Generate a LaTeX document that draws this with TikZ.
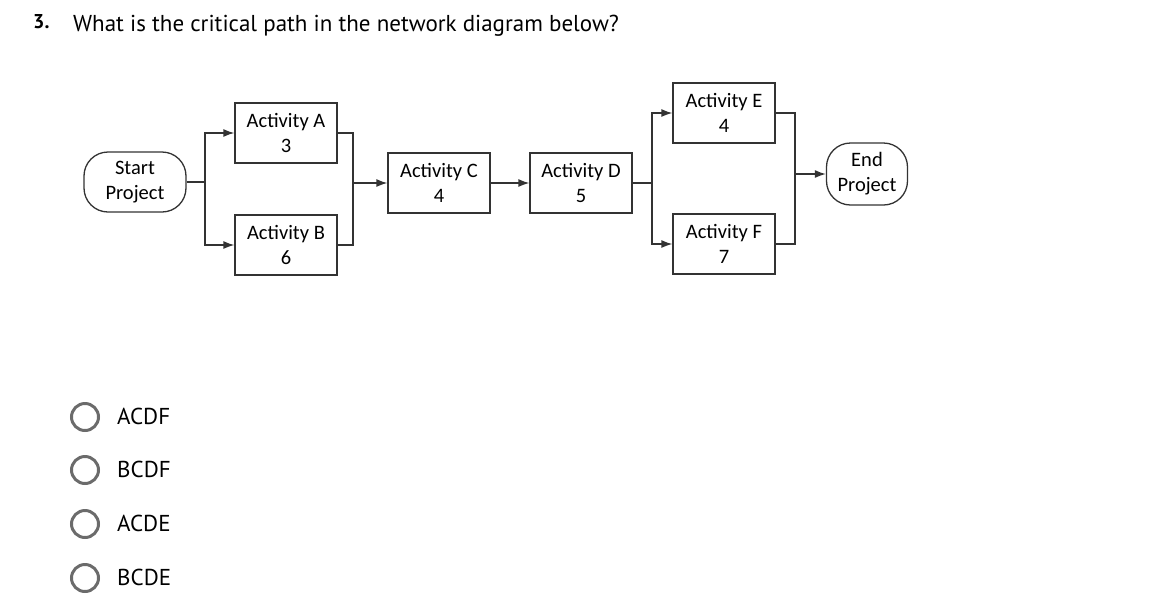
\documentclass[tikz,border=0pt]{standalone}
\usepackage{fontspec}
\setmainfont{Carlito}
\newfontfamily\quizfont{PT Sans}
\usetikzlibrary{calc}
\usetikzlibrary{arrows.meta}
\definecolor{line-gray}{gray}{0.2}
\definecolor{radio-gray}{gray}{0.42}

\begin{document}
\begin{tikzpicture}
  [
    x=1pt, y=-1pt,
    activity/.style = {draw=line-gray, line width=1.3pt, minimum width=102pt, minimum height=60pt,
                       inner sep=0pt, align=center, font=\fontsize{20.5}{25}\selectfont},
    terminal/.style = {activity, rounded corners=24pt},
    link/.style     = {line-gray, line width=1.3pt},
    arrow/.style    = {link, -{Latex[length=11pt, width=8pt]}},
    radio/.style    = {draw=radio-gray, line width=3pt, circle, minimum size=27pt, inner sep=0pt},
    choice/.style   = {anchor=base west, inner sep=0pt, font=\quizfont\fontsize{23}{27}\selectfont}
  ]
\useasboundingbox (0, 0) rectangle (1154, 603);

% Question
\node[anchor=base west, inner sep=0pt, font=\quizfont\bfseries\fontsize{20}{24}\selectfont] (num) at (33, 28) {3.};
\node[anchor=base west, inner sep=0pt, font=\quizfont\fontsize{23}{27}\selectfont] (question) at (73, 31)
     {What is the critical path in the network diagram below?};

% ---------------------------------------------------
% Start - End - Activity - nodes
\node[terminal] (start) at (135, 182) {Start\\Project};
\node[activity] (actA)  at (286, 133) {Activity A\\3};
\node[activity] (actB)  at (286, 245) {Activity B\\6};
\node[activity] (actC)  at (439, 183) {Activity C\\4};
\node[activity] (actD)  at (581, 183) {Activity D\\5};
\node[activity] (actE)  at (724, 113) {Activity E\\4};
\node[activity] (actF)  at (724, 244) {Activity F\\7};
\node[terminal, minimum width=81pt, minimum height=62pt] (end) at (867, 174) {End\\Project};

% Split and merge points
\coordinate[] (split1) at (205, 182);
\coordinate[] (merge1) at (353, 183);
\coordinate[] (split2) at (652, 183);
\coordinate[] (merge2) at (795, 174);

% Start -> A, B
\draw[link] (start) -- (split1);
\draw[arrow] (split1) |- (actA);
\draw[arrow] (split1) |- (actB);
% A, B -> C
\draw[link] (actA) -| (merge1);
\draw[link] (actB) -| (merge1);
\path[] (merge1)
        edge[arrow] (actC);
% C -> D
\path[] (actC)
        edge[arrow] (actD);
% D -> E, F
\draw[link] (actD) -- (split2);
\draw[arrow] (split2) |- (actE);
\draw[arrow] (split2) |- (actF);
% E, F -> End
\draw[link] (actE) -| (merge2);
\draw[link] (actF) -| (merge2);
\path[] (merge2)
        edge[arrow] (end);

% ---------------------------------------------------
% Answers
\node[radio] (r1) at (85, 417) {};
\node[radio] (r2) at (85, 470) {};
\node[radio] (r3) at (85, 524) {};
\node[radio] (r4) at (85, 578) {};
\node[choice] (c1) at ($ (r1) + (32, 7) $) {ACDF};
\node[choice] (c2) at ($ (r2) + (32, 7) $) {BCDF};
\node[choice] (c3) at ($ (r3) + (32, 7) $) {ACDE};
\node[choice] (c4) at ($ (r4) + (32, 7) $) {BCDE};
\end{tikzpicture}
\end{document}
